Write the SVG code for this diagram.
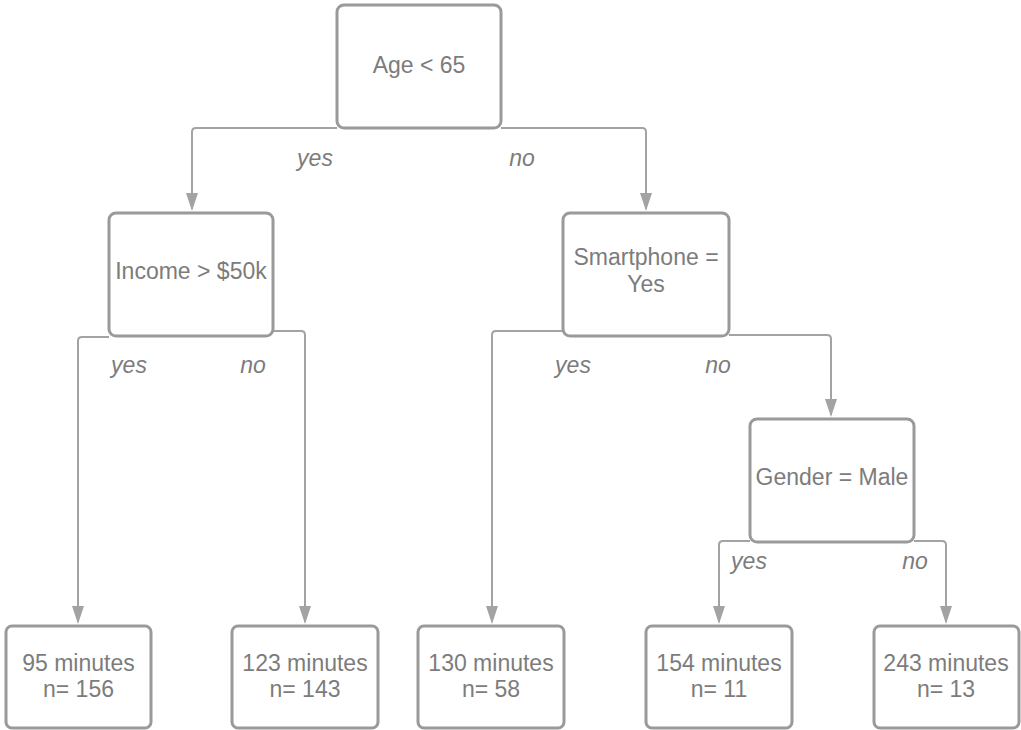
<svg xmlns="http://www.w3.org/2000/svg" width="1021" height="730" viewBox="0 0 1021 730">
<style>
.box{fill:#fff;stroke:#9a9a9a;stroke-width:3}
.t{font-family:"Liberation Sans",Arial,sans-serif;font-size:23px;fill:#7c7c7c;text-anchor:middle}
.lab{font-family:"Liberation Sans",Arial,sans-serif;font-size:23px;fill:#7c7c7c;text-anchor:middle;font-style:italic}
.c{fill:none;stroke:#a3a3a3;stroke-width:2}
</style>
<defs>
<marker id="ah" markerUnits="userSpaceOnUse" markerWidth="18" markerHeight="12" viewBox="0 0 18 12" refX="16" refY="6" orient="auto">
<path d="M0,0 L18,6 L0,12 z" fill="#a3a3a3"/>
</marker>
</defs>
<rect width="1021" height="730" fill="#fff"/>
<g id="connectors">
<path class="c" marker-end="url(#ah)" d="M337,128 H196 Q192,128 192,132 V209"/>
<path class="c" marker-end="url(#ah)" d="M501,128 H642 Q646,128 646,132 V209"/>
<path class="c" marker-end="url(#ah)" d="M109,337 H82 Q78,337 78,341 V622"/>
<path class="c" marker-end="url(#ah)" d="M273,331 H301 Q305,331 305,335 V622"/>
<path class="c" marker-end="url(#ah)" d="M563,331 H496 Q492,331 492,335 V622"/>
<path class="c" marker-end="url(#ah)" d="M729,335 H827 Q831,335 831,339 V415"/>
<path class="c" marker-end="url(#ah)" d="M750,541 H723 Q719,541 719,545 V622"/>
<path class="c" marker-end="url(#ah)" d="M914,541 H942 Q946,541 946,545 V622"/>
<text class="lab" x="315" y="166">yes</text>
<text class="lab" x="522" y="166">no</text>
<text class="lab" x="129" y="373">yes</text>
<text class="lab" x="253" y="373">no</text>
<text class="lab" x="573" y="373">yes</text>
<text class="lab" x="718" y="373">no</text>
<text class="lab" x="749" y="569">yes</text>
<text class="lab" x="915" y="569">no</text>
</g>
<g id="root">
<rect class="box" x="337" y="5" width="164" height="123" rx="7"/>
<text class="t" x="419" y="73">Age &lt; 65</text>
</g>
<g id="income">
<rect class="box" x="109" y="213" width="164" height="123" rx="7"/>
<text class="t" x="191" y="279">Income &gt; $50k</text>
</g>
<g id="smartphone">
<rect class="box" x="563" y="213" width="166" height="123" rx="7"/>
<text class="t" x="646" y="265">Smartphone =</text>
<text class="t" x="646" y="292">Yes</text>
</g>
<g id="gender">
<rect class="box" x="750" y="419" width="164" height="123" rx="7"/>
<text class="t" x="832" y="485">Gender = Male</text>
</g>
<g id="leaf1">
<rect class="box" x="6" y="626" width="145" height="102" rx="6"/>
<text class="t" x="78.5" y="671">95 minutes</text>
<text class="t" x="78.5" y="697">n= 156</text>
</g>
<g id="leaf2">
<rect class="box" x="232" y="626" width="146" height="102" rx="6"/>
<text class="t" x="305" y="671">123 minutes</text>
<text class="t" x="305" y="697">n= 143</text>
</g>
<g id="leaf3">
<rect class="box" x="418" y="626" width="146" height="102" rx="6"/>
<text class="t" x="491" y="671">130 minutes</text>
<text class="t" x="491" y="697">n= 58</text>
</g>
<g id="leaf4">
<rect class="box" x="646" y="626" width="146" height="102" rx="6"/>
<text class="t" x="719" y="671">154 minutes</text>
<text class="t" x="719" y="697">n= 11</text>
</g>
<g id="leaf5">
<rect class="box" x="874" y="626" width="145" height="102" rx="6"/>
<text class="t" x="946" y="671">243 minutes</text>
<text class="t" x="946" y="697">n= 13</text>
</g>
</svg>
